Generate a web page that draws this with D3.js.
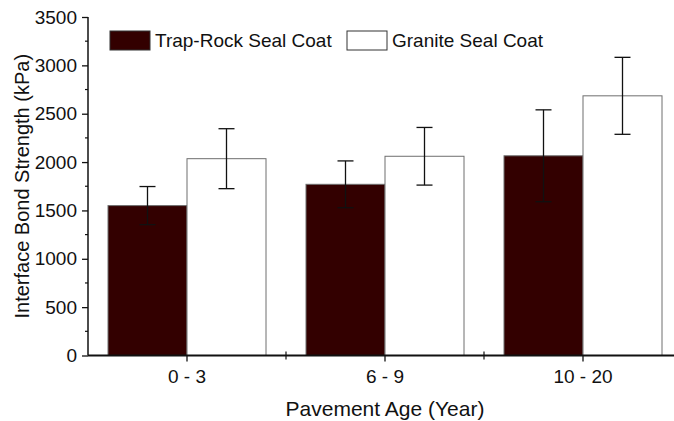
<!DOCTYPE html>
<html>
<head>
<meta charset="utf-8">
<script src="https://cdn.jsdelivr.net/npm/d3@7"></script>
<style>
  body { margin: 0; background: #fff; }
  svg { display: block; font-family: "Liberation Sans", Arial, sans-serif; }
</style>
</head>
<body>
<svg id="chart" width="674" height="421"></svg>
<script>
var categories = ['0 - 3', '6 - 9', '10 - 20'];
var seriesNames = ['Trap-Rock Seal Coat', 'Granite Seal Coat'];
var trapRock = [1550, 1770, 2065];
var trapRockErr = [197, 242, 475];
var granite = [2035, 2060, 2685];
var graniteErr = [310, 298, 398];
var yTicks = [0, 500, 1000, 1500, 2000, 2500, 3000, 3500];

var colors = ['#330000', '#ffffff'];
var plotLeft = 88, plotRight = 682, plotTop = 17, plotBottom = 355.5;
var fontFam = '"Liberation Sans", Arial, sans-serif';

var svg = d3.select('#chart');

var x = d3.scaleBand().domain(categories).range([plotLeft, plotRight]).paddingInner(0).paddingOuter(0);
var xSub = d3.scaleBand().domain([0, 1]).range([20, x.bandwidth() - 20]);
var y = d3.scaleLinear().domain([0, 3500]).range([plotBottom, plotTop]);

var series = [
    { name: seriesNames[0], values: trapRock, errs: trapRockErr },
    { name: seriesNames[1], values: granite, errs: graniteErr }
];

// bars
series.forEach(function (s, si) {
    svg.append('g').selectAll('rect')
        .data(s.values)
        .enter()
        .append('rect')
        .attr('x', function (d, i) { return x(categories[i]) + xSub(si); })
        .attr('y', function (d) { return y(d); })
        .attr('width', xSub.bandwidth())
        .attr('height', function (d) { return y(0) - y(d); })
        .attr('fill', colors[si])
        .attr('stroke', '#6e6e6e')
        .attr('stroke-width', 1);
});

// error bars
series.forEach(function (s, si) {
    var g = svg.append('g').attr('stroke', '#111').attr('stroke-width', 1.3);
    s.values.forEach(function (d, i) {
        var cx = x(categories[i]) + xSub(si) + xSub.bandwidth() / 2;
        var hi = y(d + s.errs[i]), lo = y(d - s.errs[i]);
        g.append('line').attr('x1', cx).attr('x2', cx).attr('y1', hi).attr('y2', lo);
        g.append('line').attr('x1', cx - 8).attr('x2', cx + 8).attr('y1', hi).attr('y2', hi);
        g.append('line').attr('x1', cx - 8).attr('x2', cx + 8).attr('y1', lo).attr('y2', lo);
    });
});

// y axis
var yAxis = d3.axisLeft(y).tickValues(yTicks).tickFormat(d3.format('d')).tickSize(6).tickPadding(5);
var yg = svg.append('g').attr('transform', 'translate(' + plotLeft + ',0)').call(yAxis);
yg.attr('font-family', fontFam).attr('font-size', 19);
yg.select('.domain').attr('stroke', '#111').attr('stroke-width', 1.5).attr('d', 'M0,' + plotTop + 'V' + plotBottom);
yg.selectAll('.tick line').attr('stroke', '#111').attr('stroke-width', 1.3);
yg.selectAll('.tick text').attr('fill', '#111');
// minor y ticks
var minors = d3.range(250, 3500, 500);
yg.selectAll('line.minor').data(minors).enter().append('line')
    .attr('x1', -3).attr('x2', 0)
    .attr('y1', function (d) { return y(d); }).attr('y2', function (d) { return y(d); })
    .attr('stroke', '#111').attr('stroke-width', 1.2);

// x axis
var xAxis = d3.axisBottom(x).tickSize(6).tickPadding(8);
var xg = svg.append('g').attr('transform', 'translate(0,' + plotBottom + ')').call(xAxis);
xg.attr('font-family', fontFam).attr('font-size', 19);
xg.select('.domain').attr('stroke', '#111').attr('stroke-width', 2).attr('d', 'M' + plotLeft + ',0H' + plotRight);
xg.selectAll('.tick line').attr('stroke', '#111').attr('stroke-width', 1.3);
xg.selectAll('.tick text').attr('fill', '#111');
// minor x ticks at band boundaries
xg.selectAll('line.minor').data(categories.slice(1)).enter().append('line')
    .attr('x1', function (d) { return x(d); }).attr('x2', function (d) { return x(d); })
    .attr('y1', -4).attr('y2', 4)
    .attr('stroke', '#111').attr('stroke-width', 1.2);

// axis titles
svg.append('text')
    .attr('transform', 'translate(29,' + ((plotTop + plotBottom) / 2) + ') rotate(-90)')
    .attr('text-anchor', 'middle')
    .attr('font-size', 20)
    .attr('fill', '#111')
    .text('Interface Bond Strength (kPa)');

svg.append('text')
    .attr('x', x(categories[1]) + x.bandwidth() / 2)
    .attr('y', 416)
    .attr('text-anchor', 'middle')
    .attr('font-size', 21)
    .attr('fill', '#111')
    .text('Pavement Age (Year)');

// legend
var legendX = [110, 347];
series.forEach(function (s, si) {
    svg.append('rect')
        .attr('x', legendX[si]).attr('y', 31)
        .attr('width', 40).attr('height', 19)
        .attr('fill', colors[si])
        .attr('stroke', '#333').attr('stroke-width', 1);
    svg.append('text')
        .attr('x', legendX[si] + 45).attr('y', 47)
        .attr('font-size', 19)
        .attr('fill', '#111')
        .text(s.name);
});
</script>
</body>
</html>
